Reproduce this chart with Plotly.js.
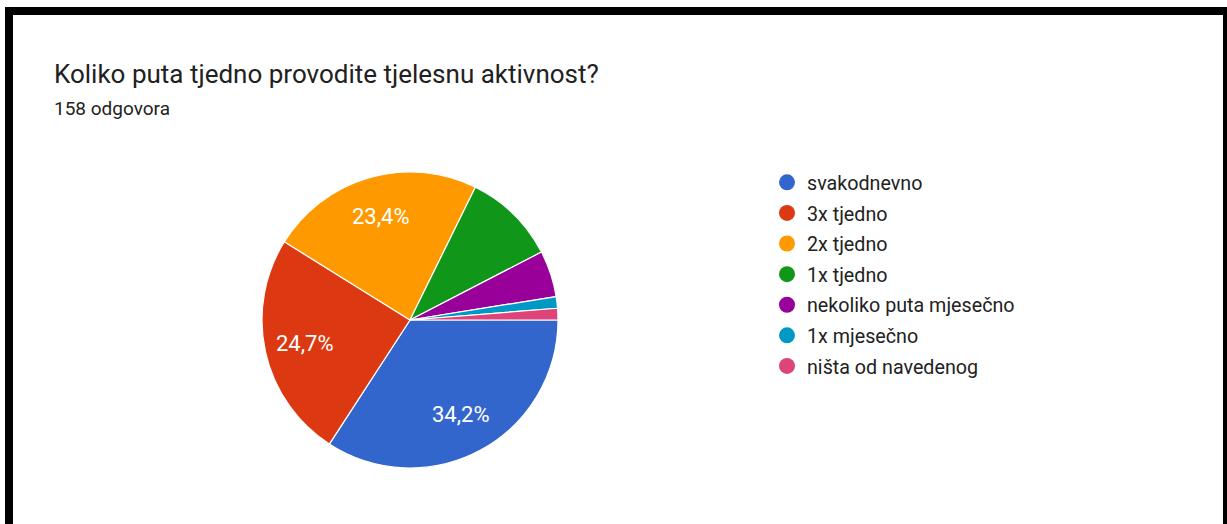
<!DOCTYPE html>
<html>
<head>
<meta charset="utf-8">
<script src="https://cdn.plot.ly/plotly-3.0.1.min.js"></script>
<style>
html,body{margin:0;padding:0;background:#fff;overflow:hidden;}
#chart{width:1227px;height:524px;}
</style>
</head>
<body>
<div id="chart"></div>
<script>
var categories = ["svakodnevno", "3x tjedno", "2x tjedno", "1x tjedno", "nekoliko puta mjesečno", "1x mjesečno", "ništa od navedenog"];
var counts = [54, 39, 37, 16, 8, 2, 2];
var colors = ["#3366cc", "#dc3912", "#ff9900", "#109618", "#990099", "#0099c6", "#dd4477"];
var showLabel = [true, true, true, false, false, false, false];
var titleText = "Koliko puta tjedno provodite tjelesnu aktivnost?";
var subtitleText = "158 odgovora";

var W = 1227, H = 524;
function px(x){return x / W;}
function py(y){return 1 - y / H;}

// pie geometry (pixels)
var pieLeft = 262, pieRight = 558, pieTop = 172, pieBottom = 468;
var cx = (pieLeft + pieRight) / 2, cy = (pieTop + pieBottom) / 2, R = (pieRight - pieLeft) / 2;
var startDeg = 90, labelFrac = 0.725;

var traces = [{
  type: "pie",
  labels: categories,
  values: counts,
  sort: false,
  direction: "clockwise",
  rotation: startDeg,
  marker: {colors: colors, line: {color: "#ffffff", width: 1.2}},
  textinfo: "none",
  domain: {x: [px(pieLeft), px(pieRight)], y: [py(pieBottom), py(pieTop)]},
  showlegend: false,
  hoverinfo: "label+percent"
}];

categories.forEach(function(c, i){
  traces.push({
    type: "scatter",
    mode: "markers",
    x: [null], y: [null],
    name: c,
    legendgroup: "g" + i,
    marker: {color: colors[i], size: 18, symbol: "circle"},
    showlegend: true,
    hoverinfo: "skip"
  });
});

var total = counts.reduce(function(a, b){return a + b;}, 0);
var annotations = [
  {text: titleText, xref: "paper", yref: "paper", x: px(52), y: py(57), xanchor: "left", yanchor: "top",
   showarrow: false, font: {family: "Roboto, Arial, sans-serif", size: 26, color: "#212121"}},
  {text: subtitleText, xref: "paper", yref: "paper", x: px(52), y: py(95), xanchor: "left", yanchor: "top",
   showarrow: false, font: {family: "Roboto, Arial, sans-serif", size: 19, color: "#222222"}}
];
var acc = 0;
counts.forEach(function(v, i){
  var frac = v / total;
  var mid = (startDeg + (acc + frac / 2) * 360) * Math.PI / 180;
  acc += frac;
  if (!showLabel[i]) return;
  var lx = cx + labelFrac * R * Math.sin(mid);
  var ly = cy - labelFrac * R * Math.cos(mid);
  annotations.push({
    text: (frac * 100).toFixed(1).replace(".", ",") + "%",
    xref: "paper", yref: "paper", x: px(lx), y: py(ly), xanchor: "center", yanchor: "middle",
    showarrow: false, font: {family: "Roboto, Arial, sans-serif", size: 22, color: "#ffffff"}
  });
});

var layout = {
  width: W, height: H,
  margin: {l: 0, r: 0, t: 0, b: 0},
  paper_bgcolor: "#ffffff",
  plot_bgcolor: "#ffffff",
  font: {family: "Roboto, Arial, sans-serif", color: "#222222"},
  xaxis: {visible: false, range: [0, 1], fixedrange: true},
  yaxis: {visible: false, range: [0, 1], fixedrange: true},
  showlegend: true,
  legend: {
    x: px(767), y: py(163), xanchor: "left", yanchor: "top",
    font: {family: "Roboto, Arial, sans-serif", size: 19.7, color: "#222222"},
    traceorder: "grouped",
    tracegroupgap: 2,
    itemclick: false, itemdoubleclick: false,
    bgcolor: "rgba(0,0,0,0)"
  },
  annotations: annotations,
  shapes: [
    {type: "rect", xref: "paper", yref: "paper", x0: px(5), x1: 1, y0: py(15), y1: py(7), fillcolor: "#000", line: {width: 0}},
    {type: "rect", xref: "paper", yref: "paper", x0: px(5), x1: px(13), y0: 0, y1: py(7), fillcolor: "#000", line: {width: 0}},
    {type: "rect", xref: "paper", yref: "paper", x0: px(1223), x1: 1, y0: 0, y1: py(7), fillcolor: "#000", line: {width: 0}}
  ]
};

Plotly.newPlot("chart", traces, layout, {displayModeBar: false, staticPlot: true});
</script>
</body>
</html>
